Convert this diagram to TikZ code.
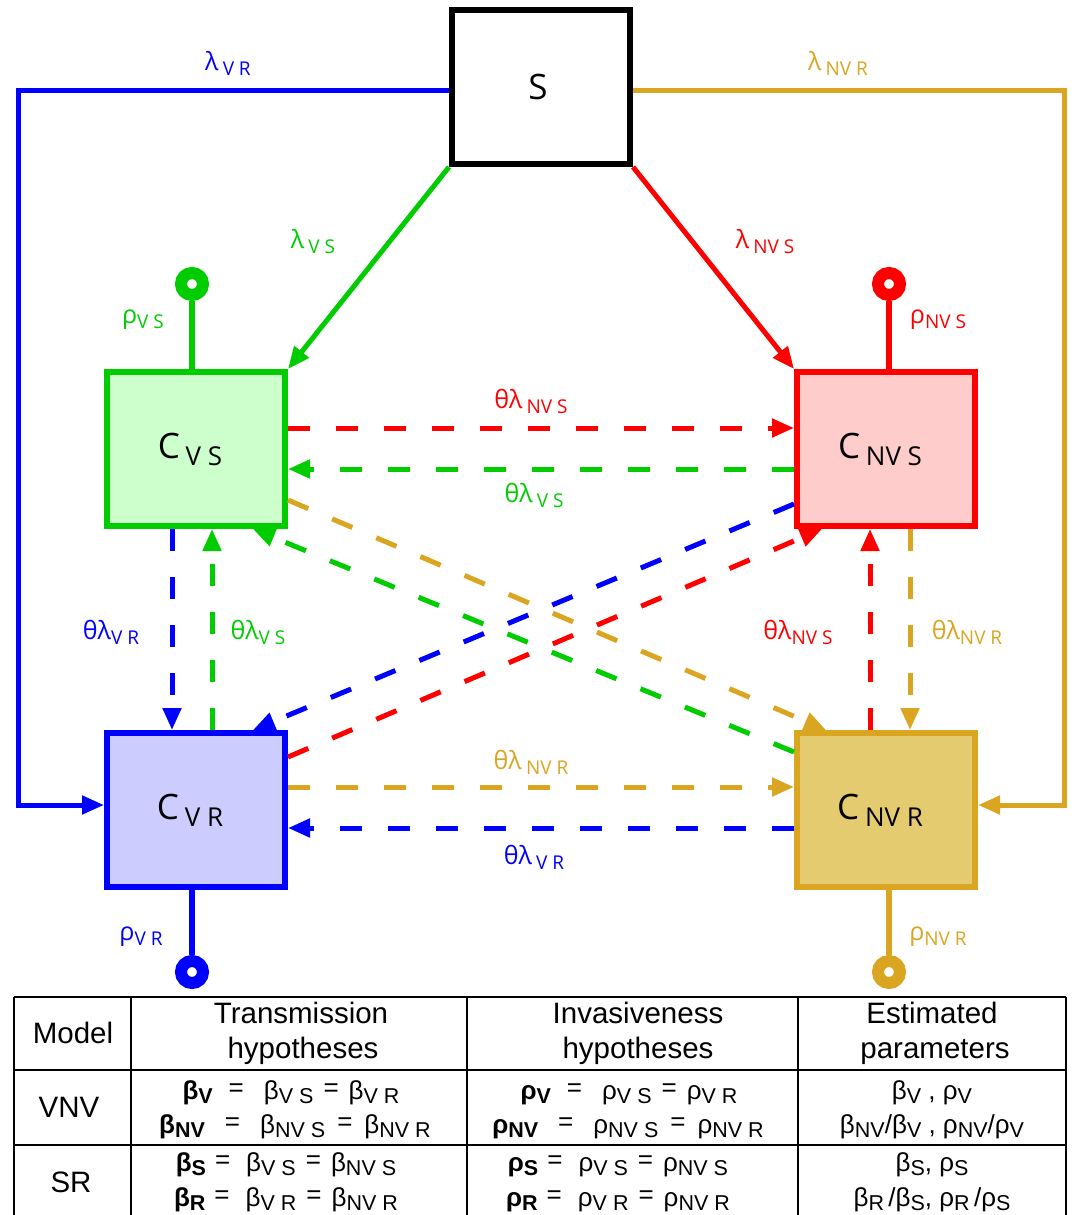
\documentclass[tikz,border=0pt]{standalone}
\usepackage{fontspec}
\setmainfont{Open Sans}
\newfontfamily\tabfont{Liberation Sans}
\usetikzlibrary{arrows.meta}
\definecolor{cgreen}{RGB}{0,204,0}
\definecolor{cred}{RGB}{255,0,0}
\definecolor{cblue}{RGB}{0,0,255}
\definecolor{cgold}{RGB}{218,165,32}
\definecolor{fgreen}{RGB}{204,255,204}
\definecolor{fred}{RGB}{255,204,204}
\definecolor{fblue}{RGB}{204,204,255}
\definecolor{fgold}{RGB}{229,203,111}
\newcommand\dsub[1]{\raisebox{-5pt}{\fontsize{19}{19}\selectfont #1}}
\newcommand\bsub[1]{\raisebox{-7pt}{\fontsize{26}{26}\selectfont #1}}
\newcommand\tsub[1]{\raisebox{-4pt}{\fontsize{21.5}{21.5}\selectfont #1}}
\newcommand\teqs{\raisebox{3pt}{=}}
\begin{document}
\begin{tikzpicture}[x=1pt,y=-1pt,
  comp/.style={draw, line width=6pt, minimum width=178pt, minimum height=154pt, inner sep=0pt, font=\fontsize{35}{35}\selectfont},
  flow/.style={line width=5pt, -{Triangle[length=22pt,width=18pt]}},
  dflow/.style={flow, dash pattern=on 22pt off 26pt},
  lab/.style={font=\fontsize{25}{25}\selectfont, inner sep=0pt},
  sink/.style={circle, line width=12pt, fill=white, minimum size=22pt, inner sep=0pt},
  stem/.style={line width=5.5pt},
  tline/.style={line width=2.5pt},
  ttext/.style={font=\tabfont\fontsize{29.5}{29.5}\selectfont, inner sep=0pt, anchor=base},
  teq/.style={font=\tabfont\fontsize{26}{26}\selectfont, inner sep=0pt, anchor=base},
]
\useasboundingbox (0,0) rectangle (1074,1215);

% compartments
\node[comp, draw=black, fill=white] (s) at (541,87) {S\kern6pt};
\node[comp, draw=cgreen, fill=fgreen] (cvs) at (196,449) {C\,\bsub{V S}\kern12pt};
\node[comp, draw=cred, fill=fred] (cnvs) at (886,449) {C\,\bsub{NV S}\kern12pt};
\node[comp, draw=cblue, fill=fblue] (cvr) at (196,810) {C\,\bsub{V R}\kern12pt};
\node[comp, draw=cgold, fill=fgold] (cnvr) at (886,810) {C\,\bsub{NV R}\kern12pt};

% sinks
\node[sink, draw=cgreen] (ovs) at (192,284) {};
\node[sink, draw=cred] (onvs) at (889,284) {};
\node[sink, draw=cblue] (ovr) at (192,972) {};
\node[sink, draw=cgold] (onvr) at (889,972) {};
\draw[stem, cgreen] (cvs.north -| ovs) -- (ovs);
\draw[stem, cred] (cnvs.north -| onvs) -- (onvs);
\draw[stem, cblue] (cvr.south -| ovr) -- (ovr);
\draw[stem, cgold] (cnvr.south -| onvr) -- (onvr);

% infection from S
\draw[flow, cblue] ([yshift=-3pt]s.west) -- (18,90) -- (18,805) -- ([yshift=5pt]cvr.west);
\draw[flow, cgold] ([yshift=-3pt]s.east) -- (1064,90) -- (1064,805) -- ([yshift=5pt]cnvr.east);
\draw[flow, cgreen] (s.south west) -- (cvs.north east);
\draw[flow, cred] (s.south east) -- (cnvs.north west);

% horizontal dashed
\draw[dflow, cred] ([yshift=21pt]cvs.east) -- ([yshift=21pt]cnvs.west);
\draw[dflow, cgreen] ([yshift=-20pt]cnvs.west) -- ([yshift=-20pt]cvs.east);
\draw[dflow, cgold] ([yshift=23pt]cvr.east) -- ([yshift=23pt]cnvr.west);
\draw[dflow, cblue] ([yshift=-18pt]cnvr.west) -- ([yshift=-18pt]cvr.east);
% vertical dashed
\draw[dflow, cblue] ([xshift=-24pt]cvs.south) -- ([xshift=-24pt]cvr.north);
\draw[dflow, cgreen] ([xshift=16pt]cvr.north) -- ([xshift=16pt]cvs.south);
\draw[dflow, cred] ([xshift=-16pt]cnvr.north) -- ([xshift=-16pt]cnvs.south);
\draw[dflow, cgold] ([xshift=24pt]cnvs.south) -- ([xshift=24pt]cnvr.north);
% diagonal dashed
\draw[dflow, cgold] ([yshift=-51pt]cvs.east) -- ([xshift=32pt]cnvr.north west);
\draw[dflow, cgreen] ([yshift=58pt]cnvr.west) -- ([xshift=-35pt]cvs.south east);
\draw[dflow, cblue] ([yshift=-55pt]cnvs.west) -- ([xshift=-35pt]cvr.north east);
\draw[dflow, cred] ([yshift=53pt]cvr.east) -- ([xshift=28pt]cnvs.south west);

% labels
\node[lab, text=cblue] (l1) at (228,63) {λ\,\dsub{V R}};
\node[lab, text=cgold] (l2) at (838,63) {λ\,\dsub{NV R}};
\node[lab, text=cgreen] (l3) at (313,242) {λ\,\dsub{V S}};
\node[lab, text=cred] (l4) at (765,242) {λ\,\dsub{NV S}};
\node[lab, text=cgreen] (l5) at (143,320) {ρ\dsub{V S}};
\node[lab, text=cred] (l6) at (938,320) {ρ\dsub{NV S}};
\node[lab, text=cblue] (l7) at (141,937) {ρ\dsub{V R}};
\node[lab, text=cgold] (l8) at (938,937) {ρ\dsub{NV R}};
\node[lab, text=cred] (l9) at (531,401) {θλ\,\dsub{NV S}};
\node[lab, text=cgreen] (l10) at (534,495) {θλ\,\dsub{V S}};
\node[lab, text=cgold] (l11) at (531,762) {θλ\,\dsub{NV R}};
\node[lab, text=cblue] (l12) at (534,857) {θλ\,\dsub{V R}};
\node[lab, text=cblue] (l13) at (111,632) {θλ\dsub{V R}};
\node[lab, text=cgreen] (l14) at (258,632) {θλ\dsub{V S}};
\node[lab, text=cred] (l15) at (798,632) {θλ\dsub{NV S}};
\node[lab, text=cgold] (l16) at (967,632) {θλ\dsub{NV R}};

% table
\draw[tline] (14,997) -- (1066,997);
\draw[tline] (14,1070) -- (1066,1070);
\draw[tline] (14,1145) -- (1066,1145);
\draw[tline] (14,997) -- (14,1216);
\draw[tline] (131,997) -- (131,1216);
\draw[tline] (467,997) -- (467,1216);
\draw[tline] (798,997) -- (798,1216);
\draw[tline] (1066,997) -- (1066,1216);

\node[ttext] (h1) at (73,1043) {Model};
\node[ttext] (h2) at (301,1023) {Transmission};
\node[ttext] (h2b) at (303,1058) {hypotheses};
\node[ttext] (h3) at (638,1023) {Invasiveness};
\node[ttext] (h3b) at (638,1058) {hypotheses};
\node[ttext] (h4) at (932,1023) {Estimated};
\node[ttext] (h4b) at (935,1058) {parameters};
\node[ttext] (m1) at (69,1117) {VNV};
\node[ttext] (m2) at (71,1192) {SR};

\node[teq] (a1) at (291,1099) {\textbf{β\tsub{V}}\hspace{16pt}\teqs\hspace{20pt}β\tsub{V S}\hspace{10pt}\teqs\hspace{10pt}β\tsub{V R}};
\node[teq] (a2) at (295,1133) {\textbf{β\tsub{NV}}\hspace{20pt}\teqs\hspace{20pt}β\tsub{NV S}\hspace{12pt}\teqs\hspace{12pt}β\tsub{NV R}};
\node[teq] (a3) at (286,1171) {\textbf{β\tsub{S}}\hspace{9pt}\teqs\hspace{16pt}β\tsub{V S}\hspace{10pt}\teqs\hspace{10pt}β\tsub{NV S}};
\node[teq] (a4) at (286,1206) {\textbf{β\tsub{R}}\hspace{9pt}\teqs\hspace{16pt}β\tsub{V R}\hspace{10pt}\teqs\hspace{10pt}β\tsub{NV R}};
\node[teq] (b1) at (629,1099) {\textbf{ρ\tsub{V}}\hspace{16pt}\teqs\hspace{20pt}ρ\tsub{V S}\hspace{10pt}\teqs\hspace{10pt}ρ\tsub{V R}};
\node[teq] (b2) at (628,1133) {\textbf{ρ\tsub{NV}}\hspace{20pt}\teqs\hspace{20pt}ρ\tsub{NV S}\hspace{12pt}\teqs\hspace{12pt}ρ\tsub{NV R}};
\node[teq] (b3) at (618,1171) {\textbf{ρ\tsub{S}}\hspace{9pt}\teqs\hspace{16pt}ρ\tsub{V S}\hspace{10pt}\teqs\hspace{10pt}ρ\tsub{NV S}};
\node[teq] (b4) at (618,1206) {\textbf{ρ\tsub{R}}\hspace{9pt}\teqs\hspace{16pt}ρ\tsub{V R}\hspace{10pt}\teqs\hspace{10pt}ρ\tsub{NV R}};
\node[teq] (c1) at (932,1099) {β\tsub{V} , ρ\tsub{V}};
\node[teq] (c2) at (932,1133) {β\tsub{NV}/β\tsub{V} , ρ\tsub{NV}/ρ\tsub{V}};
\node[teq] (c3) at (932,1171) {β\tsub{S}, ρ\tsub{S}};
\node[teq] (c4) at (932,1206) {β\tsub{R}\,/β\tsub{S}, ρ\tsub{R}\,/ρ\tsub{S}};
\end{tikzpicture}
\end{document}
